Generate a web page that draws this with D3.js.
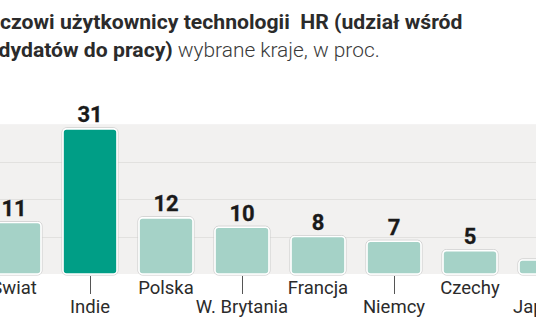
<!DOCTYPE html>
<html>
<head>
<meta charset="utf-8">
<script src="https://cdn.jsdelivr.net/npm/d3@7"></script>
<style>
  html, body { margin: 0; padding: 0; background: #fff; }
  svg { display: block; }
  text { font-family: Roboto, "Liberation Sans", sans-serif; white-space: pre; }
</style>
</head>
<body>
<svg id="chart" width="536" height="332"></svg>
<script>
// Share of job candidates using HR technology, selected countries (%)
const categories = ["Świat", "Indie", "Polska", "W. Brytania", "Francja", "Niemcy", "Czechy", "Japonia"];
const values = [11, 31, 12, 10, 8, 7, 5, 3];
const highlight = ["Indie"];
const gridTicks = [8, 16, 24, 32];

const titleHead1 = "Klu";
const titleBold1 = "czowi użytkownicy technologii  HR (udział wśród";
const titleHead2 = "kan";
const titleBold2 = "dydatów do pracy)";
const titleRest = " wybrane kraje, w proc.";

const W = 536, H = 332;
const svg = d3.select("#chart");

const baseY = 274, topY = 124.2;
const y = d3.scaleLinear().domain([0, 32]).range([baseY, topY]);
const x = d3.scaleBand()
  .domain(categories)
  .range([-24, -24 + categories.length * 76])
  .paddingInner(0.29)
  .paddingOuter(0.145);

// plot background band and gridlines
svg.append("rect")
  .attr("x", 0).attr("y", y(32))
  .attr("width", W).attr("height", baseY - y(32))
  .attr("fill", "#f2f1f0");

svg.append("g").selectAll("line")
  .data(gridTicks.slice(0, -1))
  .join("line")
  .attr("x1", 0).attr("x2", W)
  .attr("y1", d => Math.round(y(d)) + 0.5)
  .attr("y2", d => Math.round(y(d)) + 0.5)
  .attr("stroke", "#e2e1df")
  .attr("stroke-width", 1);

// title: condensed bold type, compressed horizontally to the header width
function measure(str, weight, size) {
  const t = svg.append("text").attr("font-weight", weight).attr("font-size", size).text(str);
  const w = t.node().getComputedTextLength();
  t.remove();
  return w;
}
const titleSize = 20.5;
const sx = 463 / measure(titleBold1, 700, titleSize);
const lead1 = measure(titleHead1, 700, titleSize);
const lead2 = measure(titleHead2, 700, titleSize);
const boldW2 = measure(titleBold2, 700, titleSize);
const restTarget = (380 - 173) / sx;
const restSize = titleSize * restTarget / measure(titleRest, 300, titleSize);

const title = svg.append("g")
  .attr("fill", "#2b2b2b")
  .attr("transform", `scale(${sx},1)`);
title.append("text")
  .attr("x", -lead1)
  .attr("y", 29)
  .attr("font-weight", 700)
  .attr("font-size", titleSize)
  .text(titleHead1 + titleBold1);

const t2 = title.append("text")
  .attr("x", 173 / sx - boldW2 - lead2)
  .attr("y", 57.5)
  .attr("font-size", titleSize);
t2.append("tspan").attr("font-weight", 700).text(titleHead2 + titleBold2);
t2.append("tspan").attr("font-weight", 300).attr("font-size", restSize)
  .attr("fill", "#3a3a3a").text(titleRest);

// bars
const bars = svg.append("g");
bars.selectAll("rect.halo")
  .data(categories)
  .join("rect")
  .attr("class", "halo")
  .attr("x", d => x(d) - 1)
  .attr("y", (d, i) => y(values[i]) - 1)
  .attr("width", x.bandwidth() + 2)
  .attr("height", (d, i) => baseY - y(values[i]) + 2)
  .attr("rx", 4.5)
  .attr("fill", "none")
  .attr("stroke", "#c9c9c9")
  .attr("stroke-width", 1);

bars.selectAll("rect.bar")
  .data(categories)
  .join("rect")
  .attr("class", "bar")
  .attr("x", d => x(d))
  .attr("y", (d, i) => y(values[i]))
  .attr("width", x.bandwidth())
  .attr("height", (d, i) => baseY - y(values[i]))
  .attr("rx", 3.5)
  .attr("fill", d => highlight.includes(d) ? "#009e86" : "#a5d2c7")
  .attr("stroke", "#ffffff")
  .attr("stroke-width", 1.6);

// value labels
svg.append("g").selectAll("text")
  .data(categories)
  .join("text")
  .attr("x", d => x(d) + x.bandwidth() / 2)
  .attr("y", (d, i) => y(values[i]) - 6.5)
  .attr("text-anchor", "middle")
  .attr("font-weight", 700)
  .attr("font-size", 22)
  .attr("fill", "#1a1a1a")
  .attr("stroke", "#1a1a1a")
  .attr("stroke-width", 0.3)
  .text((d, i) => values[i]);

// category labels, alternating rows with leader ticks on the lower row
const cat = svg.append("g");
cat.selectAll("line")
  .data(categories.filter((d, i) => i % 2 === 1))
  .join("line")
  .attr("x1", d => Math.round(x(d) + x.bandwidth() / 2) + 0.5)
  .attr("x2", d => Math.round(x(d) + x.bandwidth() / 2) + 0.5)
  .attr("y1", baseY + 2)
  .attr("y2", baseY + 20)
  .attr("stroke", "#555")
  .attr("stroke-width", 1);

cat.selectAll("text")
  .data(categories)
  .join("text")
  .attr("x", d => x(d) + x.bandwidth() / 2)
  .attr("y", (d, i) => i % 2 === 0 ? 294 : 313)
  .attr("text-anchor", "middle")
  .attr("font-size", 18.5)
  .attr("fill", "#2b2b2b")
  .text(d => d);
</script>
</body>
</html>
